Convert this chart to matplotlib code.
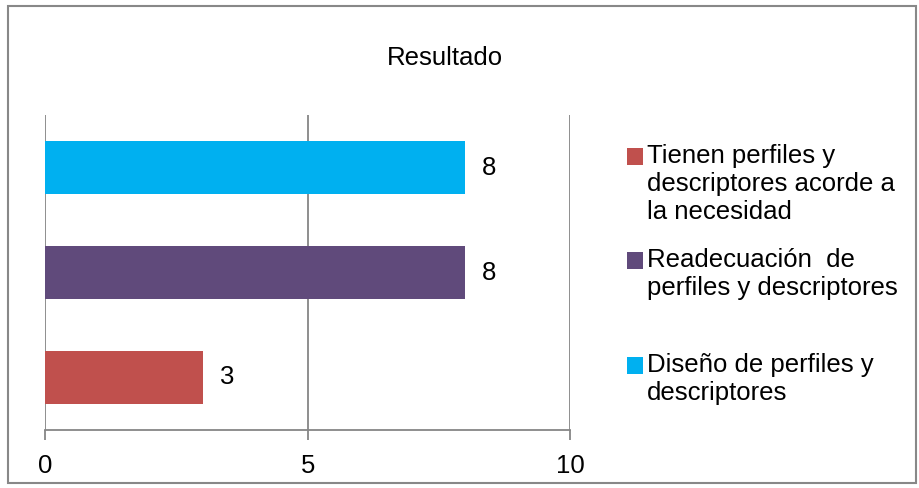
import matplotlib.pyplot as plt
from matplotlib.patches import Rectangle

plt.rcParams['font.family'] = ['Liberation Sans', 'DejaVu Sans']

# data (bottom to top)
categories = ['Tienen perfiles y\ndescriptores acorde a\nla necesidad',
              'Readecuación  de\nperfiles y descriptores',
              'Diseño de perfiles y\ndescriptores']
values = [3, 8, 8]
colors = ['#C0504D', '#604A7B', '#00B0F0']
xticks = [0, 5, 10]

W, H = 920, 488
fs = 18.5

fig = plt.figure(figsize=(W / 100, H / 100), dpi=100)
ax = fig.add_axes([0.049, 0.119, 0.571, 0.645])

pos = range(len(values))
bars = ax.barh(pos, values, height=0.5, color=colors, zorder=3)
for b, v in zip(bars, values):
    ax.annotate(str(v), (b.get_width(), b.get_y() + b.get_height() / 2),
                xytext=(17, 0), textcoords='offset pixels',
                va='center', ha='left', fontsize=fs)

ax.set_xlim(0, 10)
ax.set_ylim(-0.5, 2.5)
ax.set_xticks(xticks)
ax.set_yticks([])
ax.grid(axis='x', color='#868686', linewidth=1.3, zorder=0)
for s in ['top', 'right', 'left']:
    ax.spines[s].set_visible(False)
ax.spines['bottom'].set_color('#868686')
ax.spines['bottom'].set_linewidth(1.3)
ax.tick_params(axis='x', length=7, width=1.3, color='#868686',
               labelsize=fs, pad=10)

fig.text(445 / W, 1 - 65 / H, 'Resultado', ha='center', va='baseline', fontsize=fs)

# legend: square aligned with the first line of each label, like Excel
baselines = [163, 267, 372]
for lab, c, yb in zip(categories, colors, baselines):
    fig.patches.append(Rectangle((627 / W, 1 - (yb + 2) / H), 16 / W, 17 / H,
                                 transform=fig.transFigure, facecolor=c,
                                 edgecolor='none'))
    fig.text(647 / W, 1 - (yb - 19) / H, lab, ha='left', va='top',
             fontsize=fs, linespacing=1.2)

fig.patches.append(Rectangle((0.009, 0.01), 0.987, 0.978, transform=fig.transFigure,
                             fill=False, edgecolor='#888888', linewidth=1.5))

fig.savefig('out.png')
